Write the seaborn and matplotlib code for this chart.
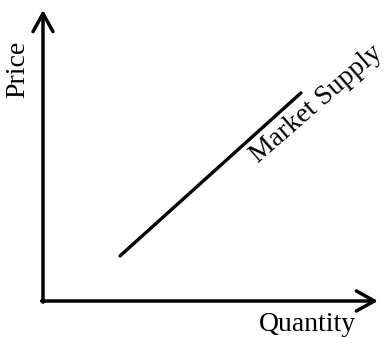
import matplotlib
matplotlib.use("Agg")
import matplotlib.pyplot as plt
import seaborn as sns
import pandas as pd

# supply curve (axis units 0..10)
quantity = [2.3, 7.7]
price = [1.55, 7.15]
curve_label = "Market Supply"
x_label = "Quantity"
y_label = "Price"

sns.set_style("white")
plt.rcParams['font.family'] = ['Liberation Serif', 'DejaVu Serif']
plt.rcParams['text.color'] = 'black'

df = pd.DataFrame({'quantity': quantity, 'price': price})

fig = plt.figure(figsize=(3.87, 3.38), dpi=100)
ax = fig.add_axes([43 / 387, 37 / 338, 335 / 387, 291 / 338])
sns.lineplot(data=df, x='quantity', y='price', color='black', linewidth=2.4, ax=ax)
ax.set_xlim(0, 10)
ax.set_ylim(0, 10)
ax.set_xticks([])
ax.set_yticks([])
ax.set_xlabel('')
ax.set_ylabel('')
for s in ax.spines.values():
    s.set_visible(False)

# axes drawn as arrows
arrow = dict(arrowstyle='->,head_length=13,head_width=7.2', mutation_scale=1,
             color='black', linewidth=2.5, shrinkA=0, shrinkB=0)
ax.annotate('', xy=(1, 0), xytext=(-0.004, 0), xycoords='axes fraction',
            arrowprops=arrow)
ax.annotate('', xy=(0, 1), xytext=(0, -0.004), xycoords='axes fraction',
            arrowprops=arrow)

ax.text(-0.075, 0.797, y_label, transform=ax.transAxes, rotation=90,
        ha='center', va='center', fontsize=20, color='black')
ax.text(0.788, -0.082, x_label, transform=ax.transAxes,
        ha='center', va='center', fontsize=20, color='black')
ax.text(0.816, 0.676, curve_label, transform=ax.transAxes, rotation=41,
        ha='center', va='center', fontsize=20, color='black')

fig.savefig('out.png', dpi=100)
